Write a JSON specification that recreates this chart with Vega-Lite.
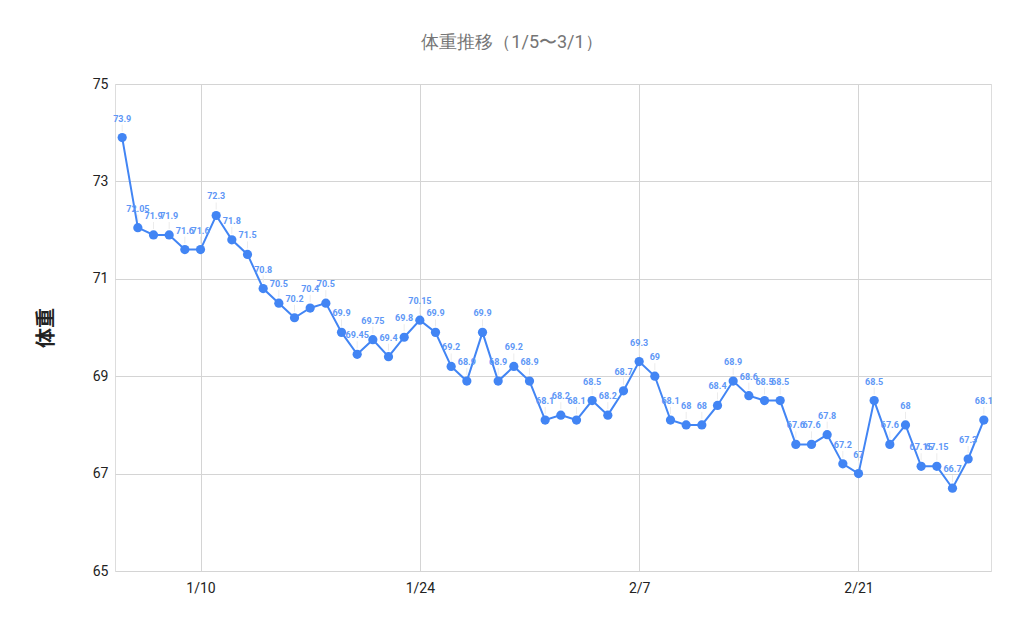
{
  "$schema": "https://vega.github.io/schema/vega-lite/v6.json",
  "autosize": "none",
  "width": 876,
  "height": 487,
  "padding": {"left": 115, "top": 84, "right": 33, "bottom": 61},
  "background": "white",
  "title": {
    "text": "体重推移（1/5〜3/1）",
    "font": "Roboto",
    "fontSize": 18,
    "fontWeight": "normal",
    "color": "#757575",
    "anchor": "middle",
    "dx": -41,
    "offset": 25
  },
  "data": {
    "values": [
      {"date": "2023-01-05T00:00:00", "weight": 73.9},
      {"date": "2023-01-06T00:00:00", "weight": 72.05},
      {"date": "2023-01-07T00:00:00", "weight": 71.9},
      {"date": "2023-01-08T00:00:00", "weight": 71.9},
      {"date": "2023-01-09T00:00:00", "weight": 71.6},
      {"date": "2023-01-10T00:00:00", "weight": 71.6},
      {"date": "2023-01-11T00:00:00", "weight": 72.3},
      {"date": "2023-01-12T00:00:00", "weight": 71.8},
      {"date": "2023-01-13T00:00:00", "weight": 71.5},
      {"date": "2023-01-14T00:00:00", "weight": 70.8},
      {"date": "2023-01-15T00:00:00", "weight": 70.5},
      {"date": "2023-01-16T00:00:00", "weight": 70.2},
      {"date": "2023-01-17T00:00:00", "weight": 70.4},
      {"date": "2023-01-18T00:00:00", "weight": 70.5},
      {"date": "2023-01-19T00:00:00", "weight": 69.9},
      {"date": "2023-01-20T00:00:00", "weight": 69.45},
      {"date": "2023-01-21T00:00:00", "weight": 69.75},
      {"date": "2023-01-22T00:00:00", "weight": 69.4},
      {"date": "2023-01-23T00:00:00", "weight": 69.8},
      {"date": "2023-01-24T00:00:00", "weight": 70.15},
      {"date": "2023-01-25T00:00:00", "weight": 69.9},
      {"date": "2023-01-26T00:00:00", "weight": 69.2},
      {"date": "2023-01-27T00:00:00", "weight": 68.9},
      {"date": "2023-01-28T00:00:00", "weight": 69.9},
      {"date": "2023-01-29T00:00:00", "weight": 68.9},
      {"date": "2023-01-30T00:00:00", "weight": 69.2},
      {"date": "2023-01-31T00:00:00", "weight": 68.9},
      {"date": "2023-02-01T00:00:00", "weight": 68.1},
      {"date": "2023-02-02T00:00:00", "weight": 68.2},
      {"date": "2023-02-03T00:00:00", "weight": 68.1},
      {"date": "2023-02-04T00:00:00", "weight": 68.5},
      {"date": "2023-02-05T00:00:00", "weight": 68.2},
      {"date": "2023-02-06T00:00:00", "weight": 68.7},
      {"date": "2023-02-07T00:00:00", "weight": 69.3},
      {"date": "2023-02-08T00:00:00", "weight": 69},
      {"date": "2023-02-09T00:00:00", "weight": 68.1},
      {"date": "2023-02-10T00:00:00", "weight": 68},
      {"date": "2023-02-11T00:00:00", "weight": 68},
      {"date": "2023-02-12T00:00:00", "weight": 68.4},
      {"date": "2023-02-13T00:00:00", "weight": 68.9},
      {"date": "2023-02-14T00:00:00", "weight": 68.6},
      {"date": "2023-02-15T00:00:00", "weight": 68.5},
      {"date": "2023-02-16T00:00:00", "weight": 68.5},
      {"date": "2023-02-17T00:00:00", "weight": 67.6},
      {"date": "2023-02-18T00:00:00", "weight": 67.6},
      {"date": "2023-02-19T00:00:00", "weight": 67.8},
      {"date": "2023-02-20T00:00:00", "weight": 67.2},
      {"date": "2023-02-21T00:00:00", "weight": 67},
      {"date": "2023-02-22T00:00:00", "weight": 68.5},
      {"date": "2023-02-23T00:00:00", "weight": 67.6},
      {"date": "2023-02-24T00:00:00", "weight": 68},
      {"date": "2023-02-25T00:00:00", "weight": 67.15},
      {"date": "2023-02-26T00:00:00", "weight": 67.15},
      {"date": "2023-02-27T00:00:00", "weight": 66.7},
      {"date": "2023-02-28T00:00:00", "weight": 67.3},
      {"date": "2023-03-01T00:00:00", "weight": 68.1}
    ]
  },
  "encoding": {
    "x": {
      "field": "date",
      "type": "temporal",
      "scale": {
        "domain": [
          {"year": 2023, "month": 1, "date": 4, "hours": 13},
          {"year": 2023, "month": 3, "date": 1, "hours": 11}
        ]
      },
      "axis": {
        "title": null,
        "values": [
          {"year": 2023, "month": 1, "date": 10},
          {"year": 2023, "month": 1, "date": 24},
          {"year": 2023, "month": 2, "date": 7},
          {"year": 2023, "month": 2, "date": 21}
        ],
        "format": "%-m/%-d",
        "labelFont": "Roboto",
        "labelFontSize": 14,
        "labelColor": "#222222",
        "labelPadding": 10,
        "ticks": false,
        "domain": false,
        "grid": true,
        "gridColor": "#d4d4d4",
        "labelFlush": false
      }
    },
    "y": {
      "field": "weight",
      "type": "quantitative",
      "scale": {"domain": [65, 75], "nice": false, "zero": false},
      "axis": {
        "title": "体重",
        "titleFont": "Noto Sans CJK JP",
        "titleFontSize": 20,
        "titleFontWeight": "bold",
        "titleColor": "#222222",
        "titlePadding": 36,
        "values": [65, 67, 69, 71, 73, 75],
        "labelFont": "Roboto",
        "labelFontSize": 14,
        "labelColor": "#222222",
        "labelPadding": 7,
        "ticks": false,
        "domain": false,
        "grid": true,
        "gridColor": "#d4d4d4"
      }
    }
  },
  "layer": [
    {
      "mark": {"type": "rule", "color": "#ececec", "strokeWidth": 1, "yOffset": -6, "y2Offset": -13},
      "encoding": {"y2": {"field": "weight"}}
    },
    {
      "mark": {"type": "line", "color": "#4285f4", "strokeWidth": 2}
    },
    {
      "mark": {"type": "circle", "color": "#4285f4", "opacity": 1, "size": 85}
    },
    {
      "mark": {
        "type": "text",
        "dy": -19,
        "font": "Roboto",
        "fontSize": 9,
        "fontWeight": "bold",
        "color": "#5e97f6"
      },
      "encoding": {"text": {"field": "weight", "type": "quantitative"}}
    }
  ]
}
